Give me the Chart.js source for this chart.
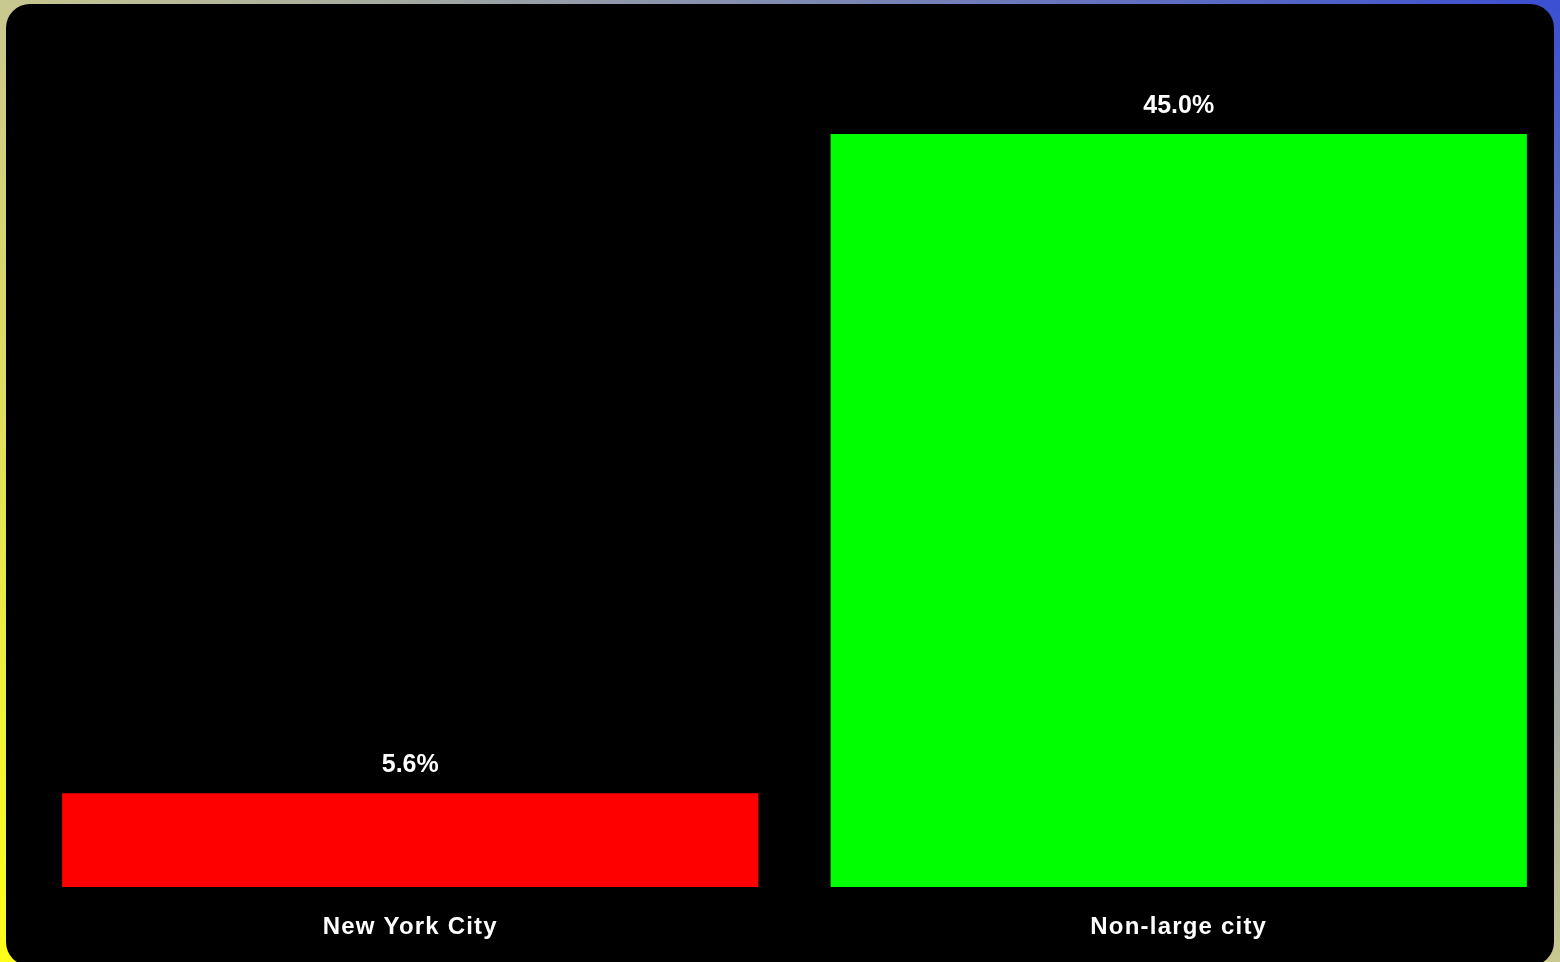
<!DOCTYPE html>
<html>
<head>
<meta charset="utf-8">
<script src="https://cdn.jsdelivr.net/npm/chart.js@4/dist/chart.umd.min.js"></script>
<style>
    html, body {
        margin: 0;
        width: 1560px;
        height: 962px;
        overflow: hidden;
        background: linear-gradient(to top right, #ffff1a 0%, #c8c890 50%, #3a4fd2 100%);
    }
    .panel {
        position: absolute;
        left: 6px;
        top: 4px;
        width: 1548px;
        height: 962px;
        background: #000;
        border-radius: 24px;
    }
    #share-chart {
        position: absolute;
        left: 0;
        top: 0;
    }
</style>
</head>
<body>
<div class="panel"></div>
<canvas id="share-chart" width="1570" height="962"></canvas>
<script>
// Share by city type, percent.
const categories = ["New York City", "Non-large city"];
const shares = [5.6, 45.0];
const barColors = ["#ff0000", "#00ff00"];

// Slightly spaced-out category labels on the x axis.
const tickSpacing = {
    id: "tickSpacing",
    beforeDraw(chart) { chart.ctx.letterSpacing = "1.2px"; },
    afterDraw(chart) { chart.ctx.letterSpacing = "0px"; }
};

// Prints "xx.x%" above each bar.
const valueLabels = {
    id: "valueLabels",
    afterDatasetsDraw(chart) {
        const ctx = chart.ctx;
        const meta = chart.getDatasetMeta(0);
        ctx.save();
        ctx.letterSpacing = "0px";
        ctx.fillStyle = "#ffffff";
        ctx.font = "bold 25px 'Liberation Sans', Arial, sans-serif";
        ctx.textAlign = "center";
        ctx.textBaseline = "middle";
        meta.data.forEach((bar, i) => {
            const v = chart.data.datasets[0].data[i];
            ctx.fillText(v.toFixed(1) + "%", bar.x, bar.y - 28);
        });
        ctx.restore();
    }
};

new Chart(document.getElementById("share-chart"), {
    type: "bar",
    data: {
        labels: categories,
        datasets: [{
            data: shares,
            backgroundColor: barColors,
            borderWidth: 0,
            categoryPercentage: 1,
            barPercentage: 0.906
        }]
    },
    options: {
        responsive: false,
        animation: false,
        layout: { padding: { left: 26, right: 7, top: 134, bottom: 0 } },
        plugins: {
            legend: { display: false },
            tooltip: { enabled: false }
        },
        scales: {
            x: {
                grid: { display: false, drawTicks: false },
                border: { display: false },
                ticks: {
                    color: "#ffffff",
                    padding: 26,
                    font: { family: "'Liberation Sans', Arial, sans-serif", size: 24, weight: "bold" }
                },
                afterFit: (scale) => { scale.height = 75; }
            },
            y: {
                display: false,
                min: 0,
                max: 45
            }
        }
    },
    plugins: [tickSpacing, valueLabels]
});
</script>
</body>
</html>
